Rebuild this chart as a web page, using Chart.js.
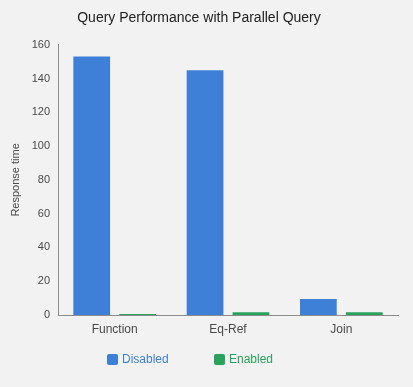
<!DOCTYPE html>
<html>
<head>
<meta charset="utf-8">
<script src="https://cdn.jsdelivr.net/npm/chart.js@4.4.1/dist/chart.umd.min.js"></script>
<style>
  html, body { margin: 0; padding: 0; background: #f2f2f2; }
  #wrap { width: 413px; height: 387px; }
</style>
</head>
<body>
<div id="wrap"><canvas id="chart" width="413" height="387"></canvas></div>
<script>
// chart data
const categories = ['Function', 'Eq-Ref', 'Join'];
const disabledTimes = [153, 145, 9.5];
const enabledTimes = [0.6, 1.6, 1.6];
const yTicks = [0, 20, 40, 60, 80, 100, 120, 140, 160];

const blue = '#3e7fd8';
const green = '#27a35b';
const fontFamily = '"Liberation Sans", Arial, sans-serif';

// legend drawn under the plot, left of centre like the original
const bottomLegend = {
    id: 'bottomLegend',
    afterDraw(chart) {
        const ctx = chart.ctx;
        const spots = [107, 214];
        ctx.save();
        ctx.font = '12px ' + fontFamily;
        ctx.textBaseline = 'middle';
        chart.data.datasets.forEach((ds, i) => {
            const x = spots[i];
            const y = 354;
            ctx.fillStyle = ds.backgroundColor;
            ctx.beginPath();
            ctx.roundRect(x, y, 11, 11, 2);
            ctx.fill();
            ctx.fillText(ds.label, x + 15, y + 5.5);
        });
        ctx.restore();
    }
};

new Chart(document.getElementById('chart'), {
    type: 'bar',
    data: {
        labels: categories,
        datasets: [
            { label: 'Disabled', data: disabledTimes, backgroundColor: blue },
            { label: 'Enabled', data: enabledTimes, backgroundColor: green }
        ]
    },
    options: {
        responsive: false,
        animation: false,
        categoryPercentage: 0.81,
        barPercentage: 0.8,
        layout: { padding: { left: 0, right: 15, top: 0, bottom: 51 } },
        plugins: {
            legend: { display: false },
            tooltip: { enabled: false },
            title: {
                display: true,
                text: 'Query Performance with Parallel Query',
                color: '#222',
                font: { family: fontFamily, size: 14, weight: 'normal' },
                padding: { top: 10, bottom: 18 }
            }
        },
        scales: {
            x: {
                grid: { display: false, drawTicks: false },
                border: { color: '#8c8c8c' },
                ticks: { color: '#4a4a4a', padding: 7, font: { family: fontFamily, size: 12 } },
                afterFit: (axis) => { axis.height = 21; }
            },
            y: {
                min: 0,
                max: 160,
                afterBuildTicks: (axis) => { axis.ticks = yTicks.map(v => ({ value: v })); },
                afterFit: (axis) => { axis.width = 58; },
                grid: { display: false, drawTicks: false },
                border: { color: '#8c8c8c' },
                ticks: { color: '#4a4a4a', padding: 8, font: { family: fontFamily, size: 11 } },
                title: {
                    display: true,
                    text: 'Response time',
                    color: '#4a4a4a',
                    padding: { top: 9, bottom: 9 },
                    font: { family: fontFamily, size: 11 }
                }
            }
        }
    },
    plugins: [bottomLegend]
});
</script>
</body>
</html>
